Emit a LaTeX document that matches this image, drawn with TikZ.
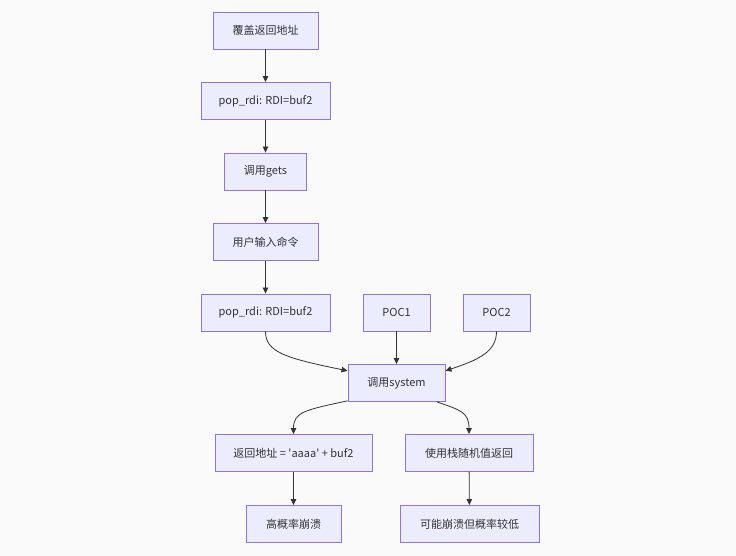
\documentclass[tikz,border=0pt]{standalone}
\usepackage{fontspec}
\setmainfont{Noto Sans CJK SC}[Ligatures=TeXOff]
\usetikzlibrary{arrows.meta}
\definecolor{nodefill}{HTML}{ECECFF}
\definecolor{nodeline}{HTML}{9370DB}
\definecolor{edgecol}{HTML}{333333}
\definecolor{txtcol}{HTML}{333333}
\definecolor{bgcol}{HTML}{FAFAFA}
\begin{document}
\begin{tikzpicture}[x=1pt,y=-1pt,
  box/.style={draw=nodeline, fill=nodefill, line width=0.9pt, minimum height=37pt, inner sep=0pt, text=txtcol, font=\fontsize{11}{13}\selectfont},
  link/.style={draw=edgecol, line width=0.8pt, -{Triangle[length=6pt,width=5.5pt]}}]
\fill[bgcol] (0,0) rectangle (736,556);
\useasboundingbox (0,0) rectangle (736,556);
\node[box, minimum width=105pt] (A) at (265.5,30.5) {覆盖返回地址};
\node[box, minimum width=129pt] (B) at (265.5,101) {pop\_rdi: RDI=buf2};
\node[box, minimum width=82pt] (C) at (265.5,171.5) {调用gets};
\node[box, minimum width=105pt] (D) at (265.5,242) {用户输入命令};
\node[box, minimum width=129pt] (E) at (265.5,312.5) {pop\_rdi: RDI=buf2};
\node[box, minimum width=67pt] (F) at (396.5,312.5) {POC1};
\node[box, minimum width=67pt] (G) at (496.5,312.5) {POC2};
\node[box, minimum width=97pt] (H) at (396.5,383) {调用system};
\node[box, minimum width=157pt] (I) at (293.5,453) {返回地址 = 'aaaa' + buf2};
\node[box, minimum width=128pt] (J) at (469,453) {使用栈随机值返回};
\node[box, minimum width=95pt] (K) at (293.5,524) {高概率崩溃};
\node[box, minimum width=139pt] (L) at (469.5,524) {可能崩溃但概率较低};
\draw[link] (A) -- (B);
\draw[link] (B) -- (C);
\draw[link] (C) -- (D);
\draw[link] (D) -- (E);
\draw[link] (F) -- (H);
\draw[link] (E.south) .. controls (265.5,352) and (285,358) .. (H.166);
\draw[link] (G.south) .. controls (496.5,352) and (478,360) .. (H.14);
\draw[link] (H.200) .. controls (305,410) and (293.5,412) .. (I.north);
\draw[link] (H.335) .. controls (460,410) and (469,412) .. (J.north);
\draw[link] (I) -- (K);
\draw[link] (J) -- (L);
\end{tikzpicture}
\end{document}
